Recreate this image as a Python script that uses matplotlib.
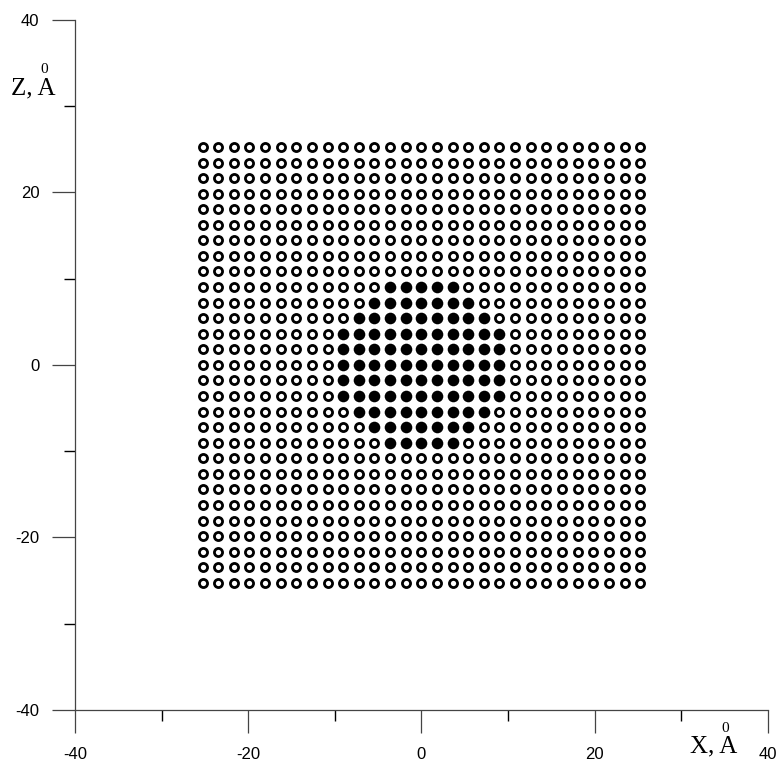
import numpy as np
import matplotlib
matplotlib.use("Agg")
import matplotlib.pyplot as plt

# square lattice of atoms in the X-Z plane, step in angstrom
lattice_step = 1.805
grid_index = list(range(-14, 15))

# rows of the central cluster (row index) and how many atoms each side of centre are filled
filled_rows = [-5, -4, -3, -2, -1, 0, 1, 2, 3, 4, 5]
filled_half_width = [2, 3, 4, 5, 5, 5, 5, 5, 4, 3, 2]

major_ticks = [-40, -20, 0, 20, 40]
minor_ticks = [-30, -10, 10, 30]


def split_lattice():
    half = dict(zip(filled_rows, filled_half_width))
    open_pts, filled_pts = [], []
    for j in grid_index:
        for i in grid_index:
            pt = (i * lattice_step, j * lattice_step)
            if j in half and abs(i) <= half[j]:
                filled_pts.append(pt)
            else:
                open_pts.append(pt)
    return np.array(open_pts), np.array(filled_pts)


open_pts, filled_pts = split_lattice()

plt.rcParams["font.family"] = ["Liberation Sans", "DejaVu Sans"]

fig = plt.figure(figsize=(7.77, 7.64), dpi=100)
ax = fig.add_axes([0.0965, 0.0707, 0.8915, 0.9033])

ax.scatter(open_pts[:, 0], open_pts[:, 1], s=34, facecolor="white",
           edgecolor="black", linewidth=2.0, zorder=3)
ax.scatter(filled_pts[:, 0], filled_pts[:, 1], s=70, color="black",
           linewidth=0, zorder=3)

ax.set_xlim(-40, 40)
ax.set_ylim(-40, 40)
ax.set_xticks(major_ticks)
ax.set_yticks(major_ticks)
ax.set_xticks(minor_ticks, minor=True)
ax.set_yticks(minor_ticks, minor=True)
ax.set_xticklabels([str(t) for t in major_ticks])
ax.set_yticklabels([str(t) for t in major_ticks])

for side in ("top", "right"):
    ax.spines[side].set_visible(False)
for side in ("left", "bottom"):
    ax.spines[side].set_color("#444444")
    ax.spines[side].set_linewidth(0.9)

ax.tick_params(which="major", direction="out", length=16.5, width=0.9,
               color="#444444", labelsize=12, pad=9)
ax.tick_params(which="minor", direction="out", length=8, width=1.0,
               color="black")
ax.tick_params(axis="x", which="major", pad=10)

# axis titles: letter, comma and A with a small "0" standing in for the ring
serif = ["Liberation Serif", "DejaVu Serif"]
ax.text(-47.4, 31.4, "Z, A", family=serif, fontsize=18, va="baseline",
        ha="left", clip_on=False)
ax.text(-43.6, 34.2, "0", family=serif, fontsize=11, va="center",
        ha="center", clip_on=False)
ax.text(31.0, -44.9, "X, A", family=serif, fontsize=18, va="baseline",
        ha="left", clip_on=False)
ax.text(35.1, -42.1, "0", family=serif, fontsize=11, va="center",
        ha="center", clip_on=False)

fig.savefig("out.png", dpi=100)
